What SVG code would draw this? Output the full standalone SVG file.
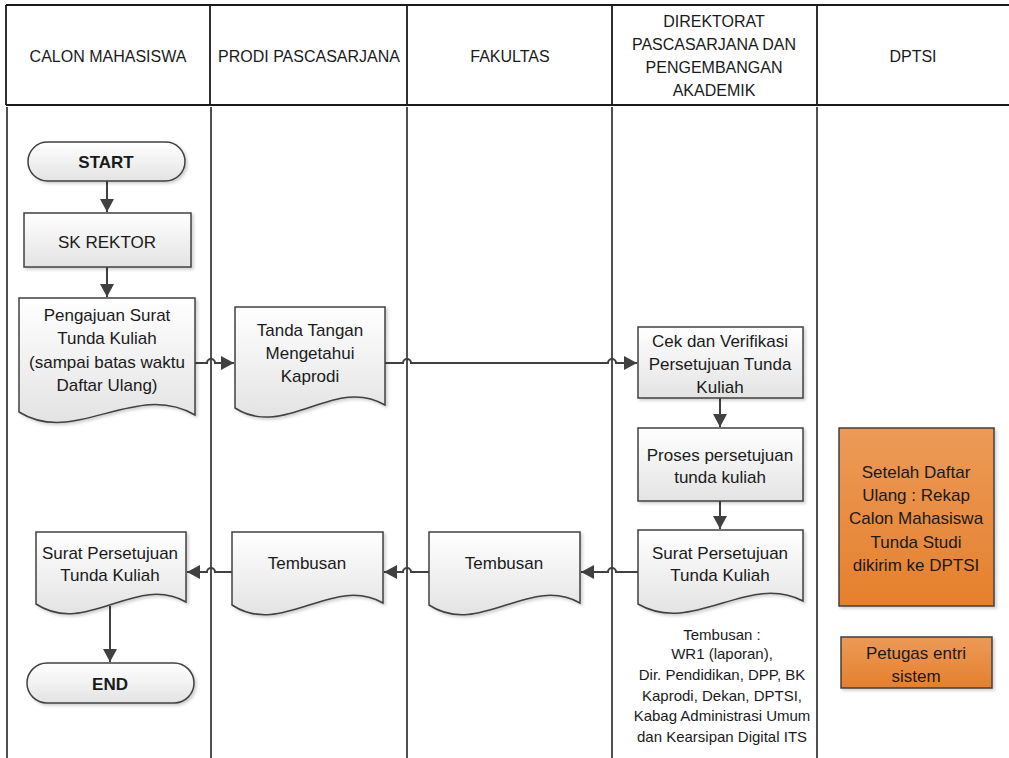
<svg xmlns="http://www.w3.org/2000/svg" width="1009" height="758" viewBox="0 0 1009 758">
<style>
.hdr{font-family:"Liberation Sans",Arial,sans-serif;font-size:16px;fill:#1a1a1a;text-anchor:middle}
.t{font-family:"Liberation Sans",Arial,sans-serif;font-size:17px;fill:#1a1a1a;text-anchor:middle}
.b{font-weight:bold}
.s{font-family:"Liberation Sans",Arial,sans-serif;font-size:15px;fill:#1a1a1a;text-anchor:middle}
.node{fill:url(#g);stroke:#404040;stroke-width:1.5;filter:url(#sh)}
.orange{fill:url(#og);stroke:#404040;stroke-width:1.5;filter:url(#sh)}
.lane{stroke:#505050;stroke-width:2;fill:none}
.hline{stroke:#1a1a1a;stroke-width:1.8;fill:none}
.conn{stroke:#404040;stroke-width:2;fill:none}
</style>
<defs>
<linearGradient id="g" x1="0" y1="0" x2="0" y2="1"><stop offset="0" stop-color="#ffffff"/><stop offset="1" stop-color="#e3e3e3"/></linearGradient>
<linearGradient id="og" x1="0" y1="0" x2="0" y2="1"><stop offset="0" stop-color="#ec9a58"/><stop offset="1" stop-color="#e5802c"/></linearGradient>
<filter id="sh" x="-10%" y="-10%" width="130%" height="130%"><feDropShadow dx="2" dy="2" stdDeviation="1.5" flood-color="#000" flood-opacity="0.18"/></filter>
<marker id="ah" markerUnits="userSpaceOnUse" markerWidth="14" markerHeight="14" refX="13" refY="7" orient="auto"><path d="M0,0 L13,7 L0,14 z" fill="#404040"/></marker>
</defs>
<rect x="0" y="0" width="1009" height="758" fill="#ffffff"/>
<g id="lanes">
<path class="hline" d="M6,5 H1009 M6,5 V105 M210,5 V105 M407,5 V105 M612,5 V105 M817,5 V105 M6,105 H1009"/>
<path class="lane" d="M7,107 V758 M211,107 V758 M407,107 V758 M612,107 V758 M817,107 V758"/>
<text class="hdr" x="108" y="62">CALON MAHASISWA</text>
<text class="hdr" x="309" y="62">PRODI PASCASARJANA</text>
<text class="hdr" x="510" y="62">FAKULTAS</text>
<text class="hdr" x="714" y="27">DIREKTORAT</text>
<text class="hdr" x="714" y="50">PASCASARJANA DAN</text>
<text class="hdr" x="714" y="73">PENGEMBANGAN</text>
<text class="hdr" x="714" y="96">AKADEMIK</text>
<text class="hdr" x="913" y="62">DPTSI</text>
</g>
<g id="connectors">
<path class="conn" d="M107,181 V212" marker-end="url(#ah)"/>
<path class="conn" d="M107,267 V297" marker-end="url(#ah)"/>
<path class="conn" d="M195,363 H207 A4,4 0 0 1 215,363 H234" marker-end="url(#ah)"/>
<path class="conn" d="M385,363 H403 A4,4 0 0 1 411,363 H608 A4,4 0 0 1 616,363 H637" marker-end="url(#ah)"/>
<path class="conn" d="M720,398 V427" marker-end="url(#ah)"/>
<path class="conn" d="M720,501 V529" marker-end="url(#ah)"/>
<path class="conn" d="M638,572 H616 A4,4 0 0 0 608,572 H581" marker-end="url(#ah)"/>
<path class="conn" d="M429,572 H411 A4,4 0 0 0 403,572 H384" marker-end="url(#ah)"/>
<path class="conn" d="M232,572 H215 A4,4 0 0 0 207,572 H187" marker-end="url(#ah)"/>
<path class="conn" d="M110,606 V662" marker-end="url(#ah)"/>
</g>
<g id="start">
<rect class="node" x="28" y="142" width="157" height="39" rx="19.5"/>
<text class="t b" x="106" y="168">START</text>
</g>
<g id="sk-rektor">
<rect class="node" x="24" y="213" width="167" height="54"/>
<text class="t" x="107" y="248">SK REKTOR</text>
</g>
<g id="pengajuan">
<path class="node" d="M19,298 H195 V415 C135,380 75,447 19,412 Z"/>
<text class="t" x="107" y="321">Pengajuan Surat</text>
<text class="t" x="107" y="344">Tunda Kuliah</text>
<text class="t" x="107" y="368">(sampai batas waktu</text>
<text class="t" x="107" y="391">Daftar Ulang)</text>
</g>
<g id="tanda-tangan">
<path class="node" d="M235,307 H385 V405 C335,375 285,440 235,408 Z"/>
<text class="t" x="310" y="336">Tanda Tangan</text>
<text class="t" x="310" y="359">Mengetahui</text>
<text class="t" x="310" y="382">Kaprodi</text>
</g>
<g id="cek">
<rect class="node" x="638" y="327" width="165" height="71"/>
<text class="t" x="720" y="347">Cek dan Verifikasi</text>
<text class="t" x="720" y="370">Persetujuan  Tunda</text>
<text class="t" x="720" y="393">Kuliah</text>
</g>
<g id="proses">
<rect class="node" x="638" y="428" width="165" height="73"/>
<text class="t" x="720" y="461">Proses persetujuan</text>
<text class="t" x="720" y="483">tunda kuliah</text>
</g>
<g id="surat-dpa">
<path class="node" d="M638,530 H803 V601 C748,572 693,636 638,604 Z"/>
<text class="t" x="720" y="559">Surat Persetujuan</text>
<text class="t" x="720" y="581">Tunda Kuliah</text>
</g>
<g id="tembusan-fakultas">
<path class="node" d="M429,532 H580 V603 C530,574 479,638 429,605 Z"/>
<text class="t" x="504" y="569">Tembusan</text>
</g>
<g id="tembusan-prodi">
<path class="node" d="M232,532 H383 V603 C333,574 282,638 232,605 Z"/>
<text class="t" x="307" y="569">Tembusan</text>
</g>
<g id="surat-calon">
<path class="node" d="M36,532 H186 V602 C136,573 86,637 36,604 Z"/>
<text class="t" x="110" y="559">Surat Persetujuan</text>
<text class="t" x="110" y="581">Tunda Kuliah</text>
</g>
<g id="end">
<rect class="node" x="27" y="663" width="167" height="40" rx="20"/>
<text class="t b" x="110" y="690">END</text>
</g>
<g id="tembusan-note">
<text class="s" x="722" y="640">Tembusan :</text>
<text class="s" x="722" y="659">WR1 (laporan),</text>
<text class="s" x="722" y="680">Dir. Pendidikan, DPP, BK</text>
<text class="s" x="722" y="701">Kaprodi, Dekan, DPTSI,</text>
<text class="s" x="722" y="721">Kabag Administrasi Umum</text>
<text class="s" x="722" y="742">dan Kearsipan Digital ITS</text>
</g>
<g id="rekap">
<rect class="orange" x="839" y="428" width="155" height="178"/>
<text class="t" x="916" y="478">Setelah Daftar</text>
<text class="t" x="916" y="501">Ulang : Rekap</text>
<text class="t" x="916" y="524">Calon Mahasiswa</text>
<text class="t" x="916" y="548">Tunda Studi</text>
<text class="t" x="916" y="571">dikirim ke DPTSI</text>
</g>
<g id="petugas">
<rect class="orange" x="841" y="637" width="151" height="51"/>
<text class="t" x="916" y="659">Petugas entri</text>
<text class="t" x="916" y="682">sistem</text>
</g>
</svg>
